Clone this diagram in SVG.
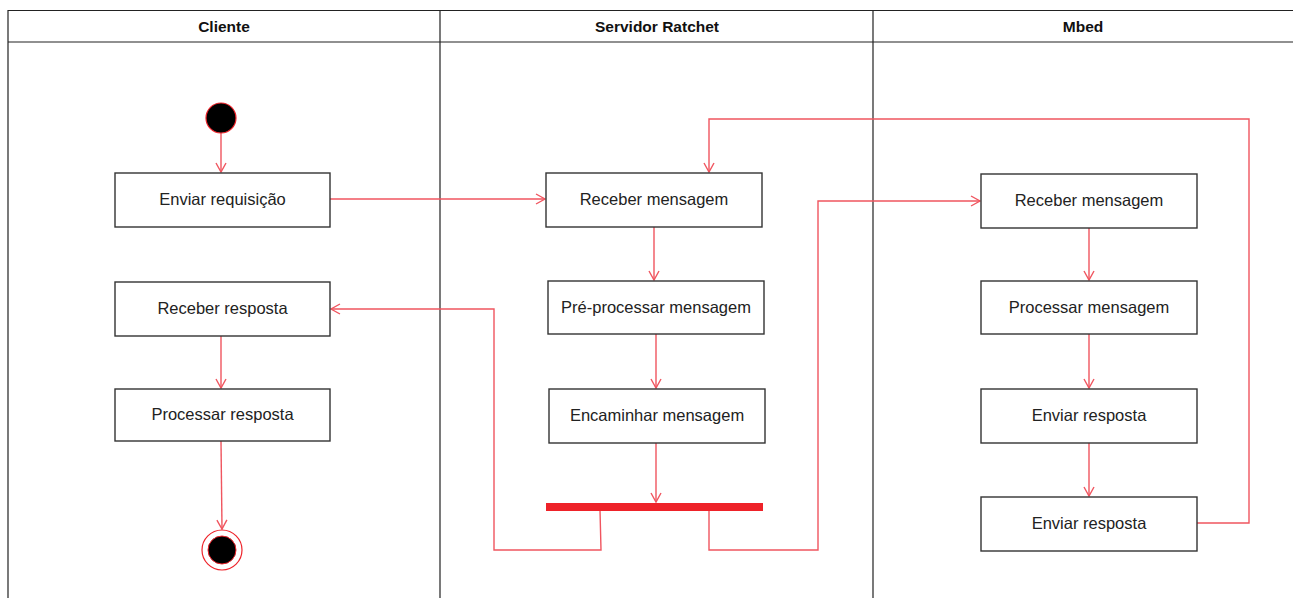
<svg xmlns="http://www.w3.org/2000/svg" width="1293" height="598" viewBox="0 0 1293 598">
<defs>
<style>
.lane{fill:none;stroke:#222;stroke-width:1.2}
.hdr{font-family:"Liberation Sans",Arial,sans-serif;font-size:15.5px;font-weight:bold;fill:#111;text-anchor:middle}
.box{fill:#fff;stroke:#333;stroke-width:1.4}
.lbl{font-family:"Liberation Sans",Arial,sans-serif;font-size:16.5px;fill:#222;text-anchor:middle;dominant-baseline:central}
.e{fill:none;stroke:#f0555f;stroke-width:1.4;marker-end:url(#arr)}
</style>
<marker id="arr" markerWidth="12" markerHeight="12" refX="10" refY="6" orient="auto" markerUnits="userSpaceOnUse">
<path d="M1,1 L10,6 L1,11" fill="none" stroke="#f0555f" stroke-width="1.4"/>
</marker>
</defs>
<rect width="1293" height="598" fill="#fff"/>
<g id="lanes">
<path class="lane" d="M8,599 V10.5 H1293 M8,42 H1293 M440,10 V599 M873,10 V599"/>
<text class="hdr" x="224" y="32">Cliente</text>
<text class="hdr" x="657" y="32">Servidor Ratchet</text>
<text class="hdr" x="1083" y="32">Mbed</text>
</g>
<g id="connectors">
<path class="e" d="M221,133 V172"/>
<path class="e" d="M330,199 H545"/>
<path class="e" d="M654,227 V280"/>
<path class="e" d="M656,334 V388"/>
<path class="e" d="M656,443 V502"/>
<path class="e" d="M600,510 L601,550 H494 V309 H331"/>
<path class="e" d="M709,510 V550 H818 V201 H980"/>
<path class="e" d="M1089,228 V280"/>
<path class="e" d="M1089,334 V388"/>
<path class="e" d="M1089,443 V496"/>
<path class="e" d="M1197,523 H1249 V119 H709 V172"/>
<path class="e" d="M221,336 V388"/>
<path class="e" d="M221,441 L222,529"/>
</g>
<g id="start"><circle cx="221" cy="118" r="15" fill="#000" stroke="#ee2229" stroke-width="1.2"/></g>
<g id="end"><circle cx="222" cy="550" r="20" fill="#fff" stroke="#ee2229" stroke-width="1.2"/><circle cx="222" cy="550" r="14" fill="#000" stroke="#ee2229" stroke-width="1"/></g>
<g id="n1"><rect class="box" x="115" y="173" width="215" height="54"/><text class="lbl" x="222.5" y="199">Enviar requisição</text></g>
<g id="n2"><rect class="box" x="115" y="282" width="215" height="54"/><text class="lbl" x="222.5" y="308">Receber resposta</text></g>
<g id="n3"><rect class="box" x="115" y="389" width="215" height="52"/><text class="lbl" x="222.5" y="414">Processar resposta</text></g>
<g id="s1"><rect class="box" x="546" y="173" width="216" height="54"/><text class="lbl" x="654" y="199">Receber mensagem</text></g>
<g id="s2"><rect class="box" x="548" y="281" width="216" height="53"/><text class="lbl" x="656" y="307">Pré-processar mensagem</text></g>
<g id="s3"><rect class="box" x="549" y="389" width="216" height="54"/><text class="lbl" x="657" y="415">Encaminhar mensagem</text></g>
<g id="fork"><rect x="546" y="503" width="217" height="8" fill="#ee2229"/></g>
<g id="m1"><rect class="box" x="981" y="174" width="216" height="54"/><text class="lbl" x="1089" y="200">Receber mensagem</text></g>
<g id="m2"><rect class="box" x="981" y="281" width="216" height="53"/><text class="lbl" x="1089" y="307">Processar mensagem</text></g>
<g id="m3"><rect class="box" x="981" y="389" width="216" height="54"/><text class="lbl" x="1089" y="415">Enviar resposta</text></g>
<g id="m4"><rect class="box" x="981" y="497" width="216" height="54"/><text class="lbl" x="1089" y="523">Enviar resposta</text></g>
</svg>
